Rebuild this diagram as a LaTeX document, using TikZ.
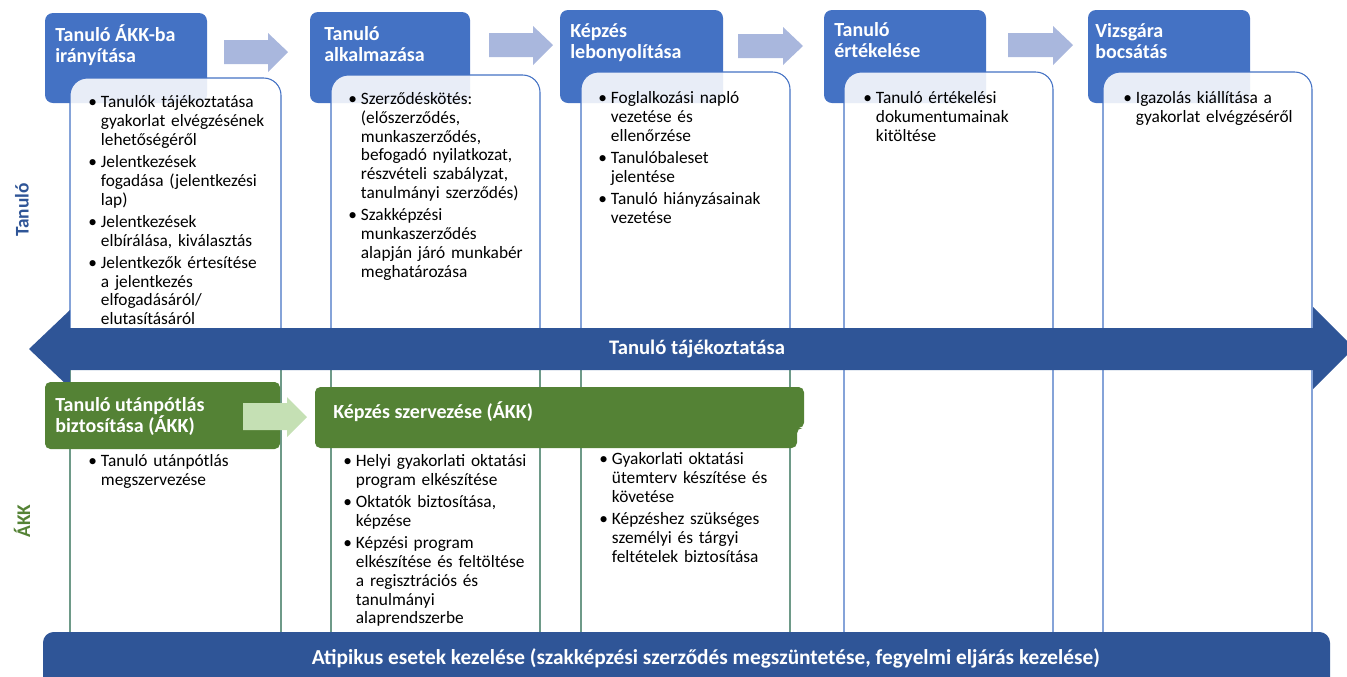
\documentclass[tikz,border=0pt]{standalone}
\usepackage{fontspec}
\setmainfont{Carlito}
\definecolor{hdrblue}{HTML}{4472C4}
\definecolor{darkblue}{HTML}{2F5597}
\definecolor{paleblue}{HTML}{A9B7DD}
\definecolor{akkgreen}{HTML}{548235}
\definecolor{palegreen}{HTML}{C5E0B4}
\definecolor{tealline}{HTML}{6E9A88}
\newcommand{\itm}[1]{\par\hangindent=9.5pt\hangafter=1\noindent\hbox to 9.5pt{\textbullet\hss}#1\par}
\tikzset{
  hdr/.style={fill=hdrblue, rounded corners=6pt},
  grnhdr/.style={fill=akkgreen, rounded corners=4pt},
  wbox/.style={draw=hdrblue, line width=0.8pt, fill=white, fill opacity=0.88, rounded corners=13pt},
  lline/.style={draw=tealline, line width=0.8pt},
  hdrtxt/.style={anchor=north west, inner sep=0pt, align=left, text=white, font=\bfseries\fontsize{15}{15.75}\selectfont},
  bodytxt/.style={anchor=north west, inner sep=0pt, text width=150pt, align=left, font=\fontsize{13}{14.1}\selectfont\setlength{\parskip}{2.6pt}},
  bartxt/.style={text=white, font=\bfseries\fontsize{15.5}{17}\selectfont},
  sidetxt/.style={rotate=90, font=\bfseries\fontsize{14.5}{16}\selectfont},
}
\begin{document}
\begin{tikzpicture}[x=0.75pt, y=-0.75pt]
\useasboundingbox (0,0) rectangle (1347,676);
\clip (0,0) rectangle (1347,676);
% headers of the Tanuló row
\fill[hdr] (45,13) rectangle (207,103);
\fill[hdr] (310,12) rectangle (470,103);
\fill[hdr] (560,10) rectangle (723,103);
\fill[hdr] (824,10) rectangle (986,103);
\fill[hdr] (1088,10) rectangle (1250,103);
\node[hdrtxt] (h1) at (55,24) {Tanuló ÁKK-ba\\irányítása};
\node[hdrtxt] (h2) at (324,26) {Tanuló\\alkalmazása};
\node[hdrtxt] (h3) at (570,23) {Képzés\\lebonyolítása};
\node[hdrtxt] (h4) at (834,22) {Tanuló\\értékelése};
\node[hdrtxt] (h5) at (1095,23) {Vizsgára\\bocsátás};
% arrows between headers
\fill[paleblue] (224,40) -- (268,40) -- (268,33) -- (288,52) -- (268,72) -- (268,64) -- (224,64) -- cycle;
\fill[paleblue] (489,33) -- (533,33) -- (533,26) -- (553,45) -- (533,65) -- (533,57) -- (489,57) -- cycle;
\fill[paleblue] (738,34) -- (783,34) -- (783,27) -- (803,46) -- (783,65) -- (783,58) -- (738,58) -- cycle;
\fill[paleblue] (1008,33) -- (1053,33) -- (1053,26) -- (1073,45) -- (1053,65) -- (1053,57) -- (1008,57) -- cycle;
% white boxes
\path[wbox] (70,640) -- (70,78) -- (281,78) -- (281,640);
\path[wbox] (331,640) -- (331,75) -- (540,75) -- (540,640);
\path[wbox] (581,640) -- (581,72) -- (790,72) -- (790,640);
\path[wbox] (844,640) -- (844,72) -- (1053,72) -- (1053,640);
\path[wbox] (1103,640) -- (1103,72) -- (1312,72) -- (1312,640);
\draw[lline] (70,360) -- (70,633);
\draw[lline] (281,360) -- (281,633);
\draw[lline] (331,360) -- (331,633);
\draw[lline] (540,360) -- (540,633);
\draw[lline] (581,360) -- (581,633);
\draw[lline] (790,360) -- (790,633);
% box texts, Tanuló
\node[bodytxt] (t1) at (88,85) {\itm{Tanulók tájékoztatása\newline gyakorlat elvégzésének\newline lehetőségéről}\itm{Jelentkezések\newline fogadása (jelentkezési\newline lap)}\itm{Jelentkezések\newline elbírálása, kiválasztás}\itm{Jelentkezők értesítése\newline a jelentkezés\newline elfogadásáról/\newline elutasításáról}};
\node[bodytxt] (t2) at (348,82) {\itm{Szerződéskötés:\newline (előszerződés,\newline munkaszerződés,\newline befogadó nyilatkozat,\newline részvételi szabályzat,\newline tanulmányi szerződés)}\itm{Szakképzési\newline munkaszerződés\newline alapján járó munkabér\newline meghatározása}};
\node[bodytxt] (t3) at (598,81) {\itm{Foglalkozási napló\newline vezetése és\newline ellenőrzése}\itm{Tanulóbaleset\newline jelentése}\itm{Tanuló hiányzásainak\newline vezetése}};
\node[bodytxt] (t4) at (863,81) {\itm{Tanuló értékelési\newline dokumentumainak\newline kitöltése}};
\node[bodytxt] (t5) at (1123,81) {\itm{Igazolás kiállítása a\newline gyakorlat elvégzéséről}};
% big double arrow
\fill[darkblue] (29,349) -- (70,310) -- (70,328) -- (1313,328) -- (1313,307) -- (1354,348) -- (1313,389) -- (1313,370) -- (70,370) -- (70,388) -- cycle;
\node[bartxt] (info) at (697,349) {Tanuló tájékoztatása};
% ÁKK row
\fill[grnhdr] (45,382) rectangle (280,449);
\fill[grnhdr] (315,387) -- (804,387) -- (804,428) -- (797,428) -- (797,448) -- (315,448) -- cycle;
\fill[palegreen] (243,403) -- (287,403) -- (287,397) -- (307,417) -- (287,437) -- (287,430) -- (243,430) -- cycle;
\node[hdrtxt] (g1) at (55,397) {Tanuló utánpótlás\\biztosítása (ÁKK)};
\node[hdrtxt] (g2) at (333,401) {Képzés szervezése (ÁKK)};
\node[bodytxt] (a1) at (88,444) {\itm{Tanuló utánpótlás\newline megszervezése}};
\node[bodytxt] (a2) at (343,444) {\itm{Helyi gyakorlati oktatási\newline program elkészítése}\itm{Oktatók biztosítása,\newline képzése}\itm{Képzési program\newline elkészítése és feltöltése\newline a regisztrációs és\newline tanulmányi\newline alaprendszerbe}};
\node[bodytxt] (a3) at (599,442) {\itm{Gyakorlati oktatási\newline ütemterv készítése és\newline követése}\itm{Képzéshez szükséges\newline személyi és tárgyi\newline feltételek biztosítása}};
% bottom bar
\fill[darkblue, rounded corners=8pt] (43,632) rectangle (1330,700);
\node[bartxt, font=\bfseries\fontsize{16}{17}\selectfont] (atip) at (706,658) {Atipikus esetek kezelése (szakképzési szerződés megszüntetése, fegyelmi eljárás kezelése)};
% row labels
\node[sidetxt, text=darkblue] (rowt) at (22,210) {Tanuló};
\node[sidetxt, text=akkgreen] (rowa) at (22,521) {ÁKK};
\end{tikzpicture}
\end{document}
